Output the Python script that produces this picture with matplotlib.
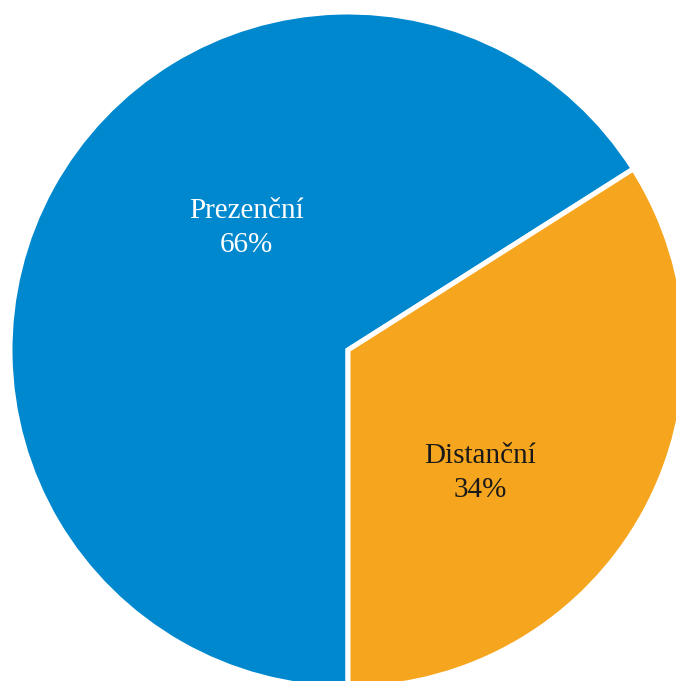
import matplotlib.pyplot as plt

# data
labels = ['Prezenční', 'Distanční']
shares = [66, 34]
colors = ['#0088CE', '#F6A61E']
text_colors = ['white', '#1a1a1a']
# label anchor points (data units, radius = 1)
label_pos = [(-0.30, 0.36), (0.39, -0.365)]

fig = plt.figure(figsize=(6.76, 6.81), dpi=100)
ax = fig.add_axes([0.5148 - 0.5, 0.486 - 0.4963, 1.0, 676 / 681])

# orange wedge ends at 6 o'clock, blue fills the rest
start = 270 - 360 * shares[0] / 100
ax.pie(shares, colors=colors, startangle=start, counterclock=True, radius=1,
       wedgeprops=dict(edgecolor='white', linewidth=3.6))

for (x, y), lab, val, tc in zip(label_pos, labels, shares, text_colors):
    ax.text(x, y, f'{lab}\n{val}%', ha='center', va='center', color=tc,
            fontsize=21, family='Liberation Serif', linespacing=1.4)

ax.set_xlim(-1, 1)
ax.set_ylim(-1, 1)
ax.set_aspect('auto')
ax.axis('off')

fig.savefig('out.png', dpi=100)
